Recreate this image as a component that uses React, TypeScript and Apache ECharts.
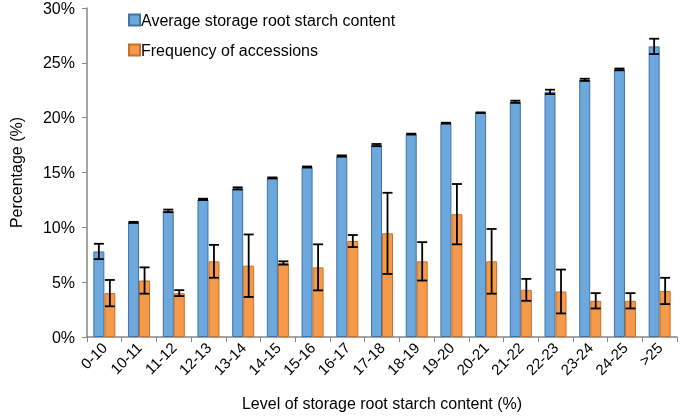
import React, { useEffect, useRef } from "react";
import * as echarts from "echarts";

const categories = ["0-10", "10-11", "11-12", "12-13", "13-14", "14-15", "15-16", "16-17", "17-18", "18-19", "19-20", "20-21", "21-22", "22-23", "23-24", "24-25", ">25"];
const starchMean = [7.8, 10.45, 11.5, 12.55, 13.55, 14.5, 15.5, 16.5, 17.5, 18.5, 19.5, 20.45, 21.45, 22.35, 23.45, 24.4, 26.5];
const starchErr = [0.7, 0.05, 0.12, 0.06, 0.1, 0.05, 0.05, 0.06, 0.1, 0.04, 0.04, 0.03, 0.1, 0.2, 0.1, 0.08, 0.7];
const freqMean = [4.0, 5.15, 4.0, 6.9, 6.5, 6.75, 6.35, 8.75, 9.45, 6.9, 11.2, 6.9, 4.3, 4.15, 3.3, 3.3, 4.2];
const freqErr = [1.2, 1.2, 0.27, 1.5, 2.85, 0.15, 2.1, 0.55, 3.7, 1.75, 2.75, 2.95, 1.0, 2.0, 0.7, 0.7, 1.2];
const yTicks = { min: 0, max: 30, interval: 5 };

const FONT = "'Liberation Sans', Arial, sans-serif";
const BAR_W = 11;

function errorSeries(name: string, means: number[], errs: number[], offset: number) {
  return {
    type: "custom",
    name: name + " error",
    z: 10,
    silent: true,
    data: means.map((m, i) => [i, m + errs[i], m - errs[i]]),
    renderItem: (params: any, api: any) => {
      const hi = api.coord([api.value(0), api.value(1)]);
      const lo = api.coord([api.value(0), api.value(2)]);
      const x = hi[0] + offset;
      const cap = 5;
      const style = { stroke: "#000", lineWidth: 1.8 };
      return {
        type: "group",
        children: [
          { type: "line", shape: { x1: x, y1: hi[1], x2: x, y2: lo[1] }, style },
          { type: "line", shape: { x1: x - cap, y1: hi[1], x2: x + cap, y2: hi[1] }, style },
          { type: "line", shape: { x1: x - cap, y1: lo[1], x2: x + cap, y2: lo[1] }, style },
        ],
      };
    },
  };
}

export default function App() {
  const ref = useRef<HTMLDivElement>(null);
  useEffect(() => {
    if (!ref.current) return;
    const chart = echarts.init(ref.current, null, { renderer: "svg" });
    chart.setOption({
      animation: false,
      textStyle: { fontFamily: FONT },
      grid: { left: 81, right: 3, top: 7, bottom: 79, containLabel: false },
      legend: {
        orient: "vertical",
        left: 123,
        top: 7,
        itemWidth: 11,
        itemHeight: 11,
        itemGap: 14,
        icon: "rect",
        data: ["Average storage root starch content", "Frequency of accessions"],
        textStyle: { fontFamily: FONT, fontSize: 16, color: "#000", padding: [0, 0, 0, -4] },
      },
      xAxis: {
        type: "category",
        data: categories,
        boundaryGap: true,
        name: "Level of storage root starch content (%)",
        nameLocation: "middle",
        nameGap: 58,
        nameTextStyle: { fontFamily: FONT, fontSize: 16, color: "#000" },
        axisLine: { lineStyle: { color: "#868686", width: 1.5 } },
        axisTick: { show: true, alignWithLabel: false, length: 5, lineStyle: { color: "#868686" } },
        axisLabel: { rotate: 45, fontFamily: FONT, fontSize: 15, color: "#000", margin: 8, interval: 0 },
        splitLine: { show: false },
      },
      yAxis: {
        type: "value",
        min: yTicks.min,
        max: yTicks.max,
        interval: yTicks.interval,
        name: "Percentage (%)",
        nameLocation: "middle",
        nameGap: 63,
        nameTextStyle: { fontFamily: FONT, fontSize: 16, color: "#000" },
        axisLine: { show: true, lineStyle: { color: "#868686", width: 1.5 } },
        axisTick: { show: true, length: 5, lineStyle: { color: "#868686" } },
        axisLabel: { formatter: "{value}%", fontFamily: FONT, fontSize: 16, color: "#000", margin: 12 },
        splitLine: { show: false },
      },
      series: [
        {
          type: "bar",
          name: "Average storage root starch content",
          data: starchMean,
          barWidth: BAR_W,
          barGap: "0%",
          itemStyle: { color: "#6CA8DC", borderColor: "#3F72A6", borderWidth: 1 },
        },
        {
          type: "bar",
          name: "Frequency of accessions",
          data: freqMean,
          barWidth: BAR_W,
          barGap: "0%",
          itemStyle: { color: "#F59A4A", borderColor: "#C96F27", borderWidth: 1 },
        },
        errorSeries("Average storage root starch content", starchMean, starchErr, -BAR_W / 2),
        errorSeries("Frequency of accessions", freqMean, freqErr, BAR_W / 2),
      ],
    });
    return () => chart.dispose();
  }, []);
  return <div ref={ref} style={{ position: "fixed", left: 0, top: 0, width: 680, height: 416 }} />;
}
